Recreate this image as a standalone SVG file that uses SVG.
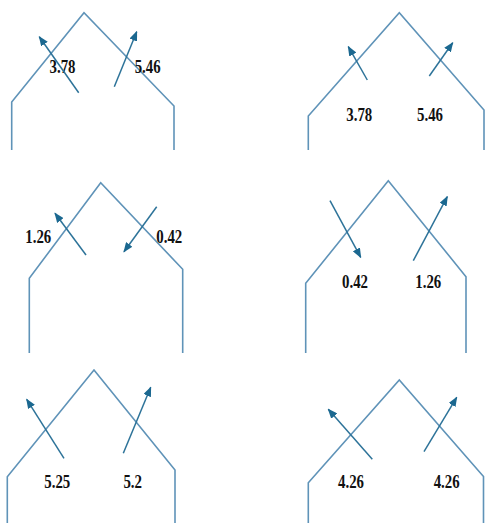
<svg xmlns="http://www.w3.org/2000/svg" width="485" height="523" viewBox="0 0 485 523">
<defs>
<marker id="ah" viewBox="0 0 10 8" refX="9" refY="4" markerWidth="10" markerHeight="8" markerUnits="userSpaceOnUse" orient="auto">
<path d="M0,0 L10,4 L0,8 Z" fill="#1b6890"/>
</marker>
<style>
.roof{fill:none;stroke:#5f93b8;stroke-width:1.6}
.arr{fill:none;stroke:#2d7399;stroke-width:1.5;marker-end:url(#ah)}
.lbl{font-family:"Liberation Serif","Times New Roman",serif;font-weight:bold;font-size:18px;fill:#111;text-anchor:middle}
</style>
</defs>
<rect width="485" height="523" fill="#fff"/>
<g id="panel1">
<polyline class="roof" points="11.7,150 11.7,102 84,12.7 174,106 174,150"/>
<text class="lbl" x="62.5" y="73" textLength="26" lengthAdjust="spacingAndGlyphs">3.78</text>
<text class="lbl" x="147.7" y="73" textLength="26" lengthAdjust="spacingAndGlyphs">5.46</text>
</g>
<g id="panel2">
<polyline class="roof" points="308.3,150 308.3,116 399.3,12.7 484,110 484,150"/>
<text class="lbl" x="359.3" y="121" textLength="26" lengthAdjust="spacingAndGlyphs">3.78</text>
<text class="lbl" x="430" y="121" textLength="26" lengthAdjust="spacingAndGlyphs">5.46</text>
</g>
<g id="panel3">
<polyline class="roof" points="29.3,353 29.3,278.3 100.7,182.7 182.7,269.3 182.7,353"/>
<text class="lbl" x="38.3" y="243" textLength="26" lengthAdjust="spacingAndGlyphs">1.26</text>
<text class="lbl" x="169.3" y="243" textLength="26" lengthAdjust="spacingAndGlyphs">0.42</text>
</g>
<g id="panel4">
<polyline class="roof" points="305.7,353 305.7,283.3 388.3,180.7 466,276.7 466,353"/>
<text class="lbl" x="355" y="288" textLength="26" lengthAdjust="spacingAndGlyphs">0.42</text>
<text class="lbl" x="428.3" y="288" textLength="26" lengthAdjust="spacingAndGlyphs">1.26</text>
</g>
<g id="panel5">
<polyline class="roof" points="7.3,523 7.3,476.7 94,370 175,470 175,523"/>
<text class="lbl" x="57.3" y="488" textLength="26" lengthAdjust="spacingAndGlyphs">5.25</text>
<text class="lbl" x="132.7" y="488" textLength="18.6" lengthAdjust="spacingAndGlyphs">5.2</text>
</g>
<g id="panel6">
<polyline class="roof" points="308.3,523 308.3,482.7 399.3,380 483.5,476.5 483.5,523"/>
<text class="lbl" x="351" y="488" textLength="26" lengthAdjust="spacingAndGlyphs">4.26</text>
<text class="lbl" x="446.7" y="488" textLength="26" lengthAdjust="spacingAndGlyphs">4.26</text>
</g>
<g id="connectors">
<line class="arr" x1="78.7" y1="92.7" x2="39.3" y2="36.7"/>
<line class="arr" x1="114.3" y1="86.7" x2="136.7" y2="31.7"/>
<line class="arr" x1="367.3" y1="80" x2="348.3" y2="46.7"/>
<line class="arr" x1="429.3" y1="76" x2="452.7" y2="42.7"/>
<line class="arr" x1="86" y1="255" x2="55" y2="213.3"/>
<line class="arr" x1="156.7" y1="206.7" x2="124" y2="251.7"/>
<line class="arr" x1="330" y1="200.7" x2="360.7" y2="257.3"/>
<line class="arr" x1="413.3" y1="260.7" x2="447.3" y2="196.7"/>
<line class="arr" x1="64" y1="458.3" x2="26.7" y2="399.3"/>
<line class="arr" x1="123.3" y1="453.3" x2="150.7" y2="387.3"/>
<line class="arr" x1="372.3" y1="459.3" x2="328.3" y2="409.3"/>
<line class="arr" x1="424" y1="451.7" x2="456.7" y2="397.3"/>
</g>
</svg>
